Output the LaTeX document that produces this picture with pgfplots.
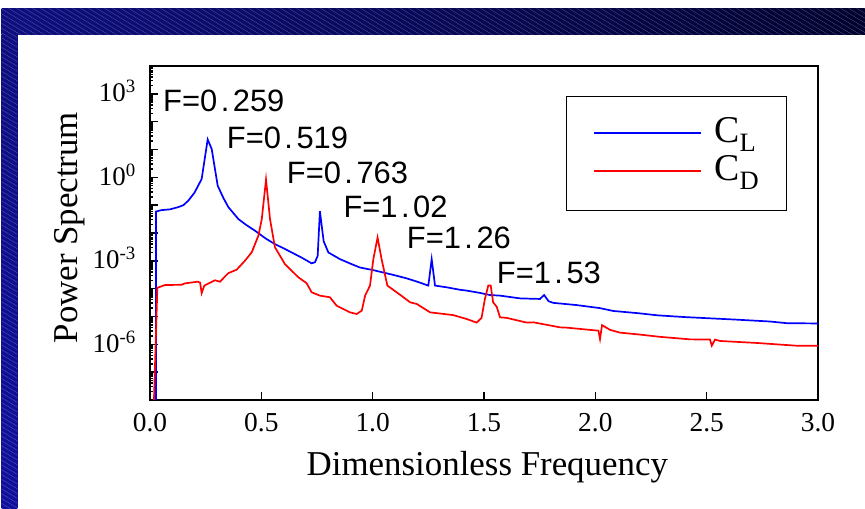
\documentclass[border=0pt]{standalone}
\usepackage{fontspec}
\setmainfont{Liberation Serif}
\newfontfamily\arial{Liberation Sans}
\usepackage{pgfplots}
\pgfplotsset{compat=1.18}
\definecolor{bandL}{RGB}{14,14,128}
\definecolor{bandR}{RGB}{2,2,48}
\definecolor{bandB}{RGB}{16,16,158}
\begin{document}
\begin{tikzpicture}[x=1bp,y=1bp]
\useasboundingbox (0,0) rectangle (865,509);
\fill[white] (0,0) rectangle (865,509);
\shade[left color=bandL, right color=bandR] (1.7,474) rectangle (865,500.7);
\shade[top color=bandL, bottom color=bandB] (1.7,0) rectangle (17.3,474.5);
\begin{scope}
\clip (1.7,474) rectangle (865,500.7) (1.7,0) rectangle (17.3,474.5);
\foreach \a in {-880,-872,...,870} \draw[white, opacity=0.28, line width=0.4bp] (\a,501) -- ++(900,-540);
\end{scope}
\begin{axis}[
 at={(150bp,109bp)}, anchor=south west, scale only axis,
 width=668bp, height=334bp,
 xmin=0, xmax=3, ymode=log, ymin=1e-8, ymax=1e4,
 axis line style={line width=1.6bp},
 tick align=inside, xtick pos=bottom, ytick pos=left,
 major tick length=8bp,
 tick style={line width=1.5bp, black},
 xtick={0,0.5,1,1.5,2,2.5,3},
 xticklabels={0.0,0.5,1.0,1.5,2.0,2.5,3.0},
 ytick={1e-8,1e-7,1e-6,1e-5,1e-4,1e-3,1e-2,1e-1,1,1e1,1e2,1e3,1e4},
 yticklabels={,,10\textsuperscript{-6},,,10\textsuperscript{-3},,,10\textsuperscript{0},,,10\textsuperscript{3},},
 xticklabel style={font=\fontsize{27.5}{27.5}\selectfont, anchor=base, inner sep=0pt, yshift=-31.7bp},
 yticklabel style={font=\fontsize{27}{27}\selectfont, anchor=base east, inner sep=0pt, xshift=-14bp, yshift=-8bp},
 xlabel={Dimensionless Frequency},
 xlabel style={font=\fontsize{35}{35}\selectfont, at={(axis description cs:0.505,-0.2246)}, anchor=base, inner sep=0pt},
 ylabel={Power Spectrum},
 ylabel style={font=\fontsize{35}{35}\selectfont, at={(axis description cs:-0.1078,0.516)}, anchor=base, inner sep=0pt},
 legend style={at={(axis description cs:0.622,0.911)}, anchor=north west, draw=black, line width=1.2bp, fill=white,
   font=\fontsize{38}{38}\selectfont, inner xsep=27bp, inner ysep=21bp, row sep=4.3bp, column sep=12.6bp,
   nodes={inner sep=0pt, text height=25bp, text depth=9bp}},
 legend cell align=left,
 legend image code/.code={\draw[#1,line width=1.6bp] (0bp,1.6bp) -- (107bp,1.6bp);},
]
\addplot[blue, line width=1.7bp] coordinates {
(0.027,1e-9) (0.027,5.89e-2) (0.05,6.61e-2) (0.09,7.08e-2) (0.127,8.51e-2) (0.15,1.0e-1)
(0.172,1.45e-1) (0.20,2.82e-1) (0.232,8.71e-1) (0.259,22.9) (0.277,10.5) (0.304,0.501)
(0.33,0.178) (0.352,8.51e-2) (0.397,3.16e-2) (0.43,2.0e-2) (0.472,1.20e-2) (0.52,6.31e-3)
(0.561,3.98e-3) (0.60,2.82e-3) (0.636,2.0e-3) (0.68,1.32e-3) (0.726,8.13e-4) (0.741,8.91e-4)
(0.753,1.51e-3) (0.763,6.03e-2) (0.78,5.01e-3) (0.801,2.0e-3) (0.853,1.15e-3) (0.90,7.94e-4)
(0.943,5.75e-4) (1.0,4.68e-4) (1.048,3.80e-4) (1.10,3.02e-4) (1.153,2.34e-4) (1.20,1.78e-4)
(1.250,1.29e-4) (1.265,1.15e-3) (1.28,1.29e-4) (1.332,1.12e-4) (1.392,9.12e-5) (1.422,8.51e-5)
(1.48,7.08e-5) (1.527,5.89e-5) (1.572,5.62e-5) (1.662,4.47e-5) (1.751,4.27e-5) (1.770,5.89e-5)
(1.79,3.55e-5) (1.811,3.09e-5) (1.916,2.57e-5) (2.021,2.0e-5) (2.08,1.58e-5) (2.19,1.32e-5)
(2.28,1.10e-5) (2.40,9.55e-6) (2.50,8.71e-6) (2.627,7.76e-6) (2.784,6.61e-6) (2.86,5.75e-6)
(3.0,5.62e-6)
};
\addlegendentry{C\textsubscript{L}}
\addplot[red, line width=1.7bp] coordinates {
(0.014,1e-9) (0.033,1.07e-4) (0.067,1.35e-4) (0.142,1.38e-4) (0.157,1.55e-4) (0.214,1.78e-4)
(0.225,1.66e-4) (0.232,6.92e-5) (0.244,1.29e-4) (0.292,2.0e-4) (0.314,1.78e-4) (0.352,3.63e-4)
(0.389,4.79e-4) (0.427,1.02e-3) (0.457,2.04e-3) (0.487,8.13e-3) (0.502,3.16e-2) (0.521,0.832)
(0.539,3.16e-2) (0.561,3.09e-3) (0.606,7.59e-4) (0.666,2.57e-4) (0.703,1.58e-4) (0.726,7.41e-5)
(0.763,5.62e-5) (0.808,4.90e-5) (0.838,2.45e-5) (0.898,1.41e-5) (0.928,1.23e-5) (0.951,1.62e-5)
(0.966,5.62e-5) (0.988,1.29e-4) (1.003,1.15e-3) (1.022,6.92e-3) (1.040,1.15e-3) (1.066,1.29e-4)
(1.123,6.03e-5) (1.168,3.24e-5) (1.198,2.82e-5) (1.258,1.41e-5) (1.362,1.12e-5) (1.422,8.13e-6)
(1.467,6.03e-6) (1.489,8.91e-6) (1.504,4.27e-5) (1.519,1.29e-4) (1.530,1.29e-4) (1.541,3.24e-5)
(1.557,2.24e-5) (1.572,9.33e-6) (1.602,8.91e-6) (1.692,6.03e-6) (1.722,6.17e-6) (1.842,4.07e-6)
(1.871,3.98e-6) (2.014,3.09e-6) (2.021,1.55e-6) (2.030,4.90e-6) (2.066,3.31e-6) (2.111,2.63e-6)
(2.20,2.24e-6) (2.29,1.86e-6) (2.425,1.51e-6) (2.515,1.48e-6) (2.523,8.91e-7) (2.537,1.48e-6)
(2.56,1.32e-6) (2.725,1.12e-6) (2.904,8.91e-7) (3.0,8.91e-7)
};
\addlegendentry{C\textsubscript{D}}
\end{axis}
\begin{scope}[every node/.style={inner sep=0pt, anchor=west, font=\arial\fontsize{31}{31}\selectfont}]
\node at (163,408) {F=0\kern3.5bp.\kern3.5bp259};
\node at (226.7,371.5) {F=0\kern3.5bp.\kern3.5bp519};
\node at (286.7,336) {F=0\kern3.5bp.\kern3.5bp763};
\node at (343.3,302.3) {F=1\kern3.5bp.\kern3.5bp02};
\node at (406.7,271) {F=1\kern3.5bp.\kern3.5bp26};
\node at (496.7,236) {F=1\kern3.5bp.\kern3.5bp53};
\end{scope}
\end{tikzpicture}
\end{document}
